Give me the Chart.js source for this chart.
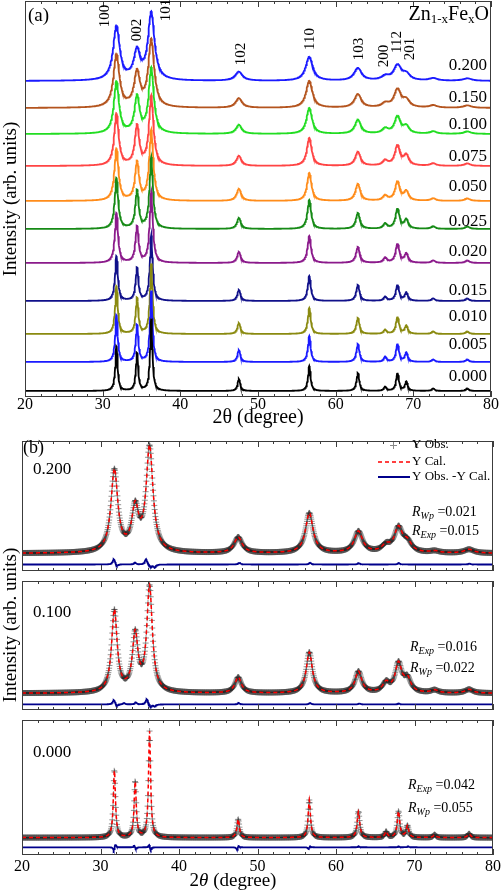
<!DOCTYPE html>
<html>
<head>
<meta charset="utf-8">
<title>Zn1-xFexO XRD</title>
<script src="https://cdn.jsdelivr.net/npm/chart.js"></script>
<style>
  body { margin: 0; background: #fff; }
  #wrap { position: relative; width: 503px; height: 892px; overflow: hidden; }
  canvas { position: absolute; left: 0; }
  #ylabB {
    position: absolute; left: -90px; top: 614px; width: 200px; line-height: 22px;
    text-align: center; transform: rotate(-90deg);
    font: 19px "Liberation Serif", "Times New Roman", serif; color: #000;
  }
</style>
</head>
<body>
<div id="wrap">
  <canvas id="chartA" width="503" height="430" style="top:0"></canvas>
  <canvas id="chartB1" width="503" height="140" style="top:436px"></canvas>
  <canvas id="chartB2" width="503" height="139" style="top:576px"></canvas>
  <canvas id="chartB3" width="503" height="177" style="top:715px"></canvas>
  <div id="ylabB">Intensity (arb. units)</div>
</div>

<script>
// ---- data ----
// reflection positions (2theta, degree) and their labels
const twoTheta = [31.77, 34.42, 36.25, 47.54, 56.60, 62.86, 66.38, 67.96, 69.10, 72.56, 76.95];
const hkl = ['100', '002', '101', '102', '110', '103', '200', '112', '201', '004', '202'];
const widthFactor = [1, 1, 1, 1.15, 1.1, 1.2, 1.2, 1.2, 1.2, 1.3, 1.4];

// panel (a): stacked patterns
const samplesA = ['0.000', '0.005', '0.010', '0.015', '0.020', '0.025', '0.050', '0.075', '0.100', '0.150', '0.200'];
const offsetA = [6, 35, 63, 96, 134, 168, 196, 231, 263, 289, 316];
const fwhmA = [0.35, 0.38, 0.40, 0.42, 0.48, 0.52, 0.62, 0.68, 0.78, 0.90, 1.00];
const peaks000 = [45, 38, 72, 12, 25, 18, 4, 18, 9, 2.5, 2.5];
const peaks005 = [47, 37, 71, 12, 26, 18, 5, 18, 9, 2.5, 2.5];
const peaks010 = [48, 36, 70, 11, 26, 16, 4, 17, 8, 2.5, 2.5];
const peaks015 = [45, 33, 65, 11, 25, 16, 4, 16, 8, 2.5, 2.5];
const peaks020 = [50, 36, 70, 11, 27, 16, 5, 19, 9, 2.5, 2.5];
const peaks025 = [51, 38, 71, 11, 29, 16, 5, 20, 9, 2.5, 2.5];
const peaks050 = [52, 38, 70, 12, 28, 17, 5, 19, 9, 2.5, 2.5];
const peaks075 = [52, 39, 69, 10, 28, 14, 5, 20, 10, 2.5, 2.5];
const peaks100 = [52, 36, 65, 9, 26, 14, 5, 17, 7, 2.5, 2.5];
const peaks150 = [53, 34, 67, 9.5, 27, 13.5, 4, 18, 7, 2.5, 2.5];
const peaks200 = [54, 28, 67, 9, 24, 12.5, 4, 15, 6, 2.5, 2.5];
const peaksA = [peaks000, peaks005, peaks010, peaks015, peaks020, peaks025, peaks050, peaks075, peaks100, peaks150, peaks200];

// panel (b): Rietveld fits
const samplesB = ['0.200', '0.100', '0.000'];
const offsetB = [19, 18, 18];
const diffOffsetB = [7, 6, 8];
const fwhmB = [1.05, 0.85, 0.32];
const calc200 = [88, 45, 112, 17, 43, 23, 7, 26, 10, 2, 4];
const calc100 = [88, 61, 113, 17, 44, 23, 10, 31, 14, 3, 4];
const calc000 = [70, 58, 110, 19, 39, 27, 6, 27, 12, 3, 4];
const diffPos200 = [31.7, 32.1, 34.4, 35.8, 36.4, 36.9, 47.7, 56.7, 62.9, 68.0, 77.0];
const diffAmp200 = [6, -2, 2, 6, -3, -3, 2, 2, 1.5, 1.5, 1];
const diffPos100 = [31.7, 32.1, 33.0, 34.5, 35.9, 36.4, 36.9, 47.6, 56.7, 63.0, 68.0];
const diffAmp100 = [5, -2, 1.5, 2, 6, -3, -2, 1.5, 1.5, 1, 1];
const diffPos000 = [31.7, 31.9, 34.3, 34.5, 36.2, 36.4, 47.4, 47.6, 56.5, 56.7, 62.9, 68.0, 69.2];
const diffAmp000 = [-4, 4, 2, -2, 3, -3, -3, 2, -2, 1.5, 1, 1, 1];
const rwp = ['0.021', '0.022', '0.055'];
const rexp = ['0.015', '0.016', '0.042'];

// ---- styles ----
const SERIF = '"Liberation Serif", "Times New Roman", serif';
Chart.defaults.font.family = SERIF;
Chart.defaults.color = '#000';
const colorsA = ['#000000', '#1a1aff', '#8a8a10', '#10108a', '#8b1a8b', '#168a16', '#ff8c1a', '#ff4444', '#22dd22', '#b4541e', '#1a1aff'];
const labelRaiseA = [14, 17, 17, 10, 11, 7, 14, 9, 9, 10, 15];
const hklDx = [-11, 0, 15, 2, 1, 1, -1, 0, 4];
const hklCy = [16, 30, 10, 54, 39, 49, 56, 42, 49];

const STEP = 0.05;
function peakProfile(amps, fwhm, base) {
  const pts = [];
  for (let i = 0; i <= 1200; i++) {
    const x = 20 + i * STEP;
    let y = base;
    for (let k = 0; k < twoTheta.length; k++) {
      const hw = fwhm * widthFactor[k] / 2;
      const d = (x - twoTheta[k]) / hw;
      y += amps[k] / (1 + d * d);
    }
    pts.push({ x: Math.round(x * 100) / 100, y: y });
  }
  return pts;
}
function diffProfile(pos, amp, base, w) {
  const pts = [];
  for (let i = 0; i <= 1200; i++) {
    const x = 20 + i * STEP;
    let y = base;
    for (let k = 0; k < pos.length; k++) {
      const d = (x - pos[k]) / (w / 2);
      y += amp[k] / (1 + d * d);
    }
    pts.push({ x: Math.round(x * 100) / 100, y: y });
  }
  return pts;
}

function drawRuns(ctx, x, y, runs, align) {
  let total = 0;
  runs.forEach(r => {
    ctx.font = (r.it ? 'italic ' : '') + r.size + 'px ' + SERIF;
    total += ctx.measureText(r.t).width;
  });
  let cx = align === 'right' ? x - total : align === 'center' ? x - total / 2 : x;
  ctx.textAlign = 'left';
  runs.forEach(r => {
    ctx.font = (r.it ? 'italic ' : '') + r.size + 'px ' + SERIF;
    ctx.fillText(r.t, cx, y + (r.dy || 0));
    cx += ctx.measureText(r.t).width;
  });
}

// frame and inward ticks on top and bottom edges
const frameTicks = {
  id: 'frameTicks',
  afterDraw(chart) {
    const { ctx, chartArea: a } = chart;
    const x = chart.scales.x;
    ctx.save();
    ctx.strokeStyle = '#3c3c3c';
    ctx.lineWidth = 1;
    ctx.strokeRect(a.left + 0.5, a.top + 0.5, a.right - a.left - 1, a.bottom - a.top - 1);
    ctx.beginPath();
    for (let v = 20; v <= 80; v += 2) {
      const px = Math.round(x.getPixelForValue(v)) + 0.5;
      const len = v % 10 === 0 ? 6 : 3;
      ctx.moveTo(px, a.bottom); ctx.lineTo(px, a.bottom - len);
      ctx.moveTo(px, a.top); ctx.lineTo(px, a.top + len);
    }
    ctx.stroke();
    ctx.restore();
  }
};

// ---- panel (a) ----
const annA = {
  id: 'annA',
  afterDraw(chart) {
    const { ctx, scales: { x, y } } = chart;
    ctx.save();
    ctx.fillStyle = '#000';
    ctx.textBaseline = 'middle';
    ctx.font = '19px ' + SERIF;
    ctx.textAlign = 'left';
    ctx.fillText('(a)', 28, 16);
    drawRuns(ctx, 489, 15, [
      { t: 'Zn', size: 20 }, { t: '1-x', size: 13, dy: 5 },
      { t: 'Fe', size: 20 }, { t: 'x', size: 13, dy: 5 }, { t: 'O', size: 20 }
    ], 'right');
    ctx.font = '15px ' + SERIF;
    ctx.textAlign = 'center';
    for (let k = 0; k < hklDx.length; k++) {
      ctx.save();
      ctx.translate(x.getPixelForValue(twoTheta[k]) + hklDx[k], hklCy[k]);
      ctx.rotate(-Math.PI / 2);
      ctx.fillText(hkl[k], 0, 0);
      ctx.restore();
    }
    ctx.font = '17px ' + SERIF;
    ctx.textAlign = 'right';
    samplesA.forEach((s, i) => {
      ctx.fillText(s, 487, y.getPixelForValue(offsetA[i]) - labelRaiseA[i]);
    });
    ctx.restore();
  }
};

new Chart(document.getElementById('chartA'), {
  type: 'line',
  data: {
    datasets: samplesA.map((s, i) => ({
      label: s,
      data: peakProfile(peaksA[i], fwhmA[i], offsetA[i]),
      borderColor: colorsA[i],
      borderWidth: 1.8,
      pointRadius: 0,
      fill: false
    }))
  },
  options: {
    responsive: false, animation: false, events: [],
    layout: { padding: { left: 0, right: 12, top: 1, bottom: 0 } },
    plugins: { legend: { display: false }, tooltip: { enabled: false } },
    scales: {
      x: {
        type: 'linear', min: 20, max: 80,
        afterFit(s) { s.height = 33; },
        grid: { display: false, drawTicks: false }, border: { display: false },
        ticks: { stepSize: 2, autoSkip: false, maxRotation: 0, padding: -2, font: { size: 16 },
                 callback: v => (v % 10 === 0 ? String(v) : '') },
        title: { display: true, text: '2θ (degree)', font: { size: 20 }, padding: 0 }
      },
      y: {
        min: 0, max: 396,
        afterFit(s) { s.width = 25; },
        grid: { display: false, drawTicks: false }, border: { display: false },
        ticks: { display: false },
        title: { display: true, text: 'Intensity (arb. units)', font: { size: 19 }, padding: 0 }
      }
    }
  },
  plugins: [frameTicks, annA]
});

// ---- panel (b) ----
const calcB = [calc200, calc100, calc000];
const diffPosB = [diffPos200, diffPos100, diffPos000];
const diffAmpB = [diffAmp200, diffAmp100, diffAmp000];
const diffWidthB = [0.35, 0.35, 0.22];
const canvasTopB = [436, 576, 715];
const labelYB = [470, 613, 753];
const rLeftB = [412, 410, 408];
const rRowsB = [[512, 531], [647, 668], [785, 808]];
const OBS_COLOR = 'rgba(40,40,40,0.5)';

function rText(ctx, x, y, sub, val) {
  drawRuns(ctx, x, y, [
    { t: 'R', size: 14, it: true }, { t: sub, size: 10, it: true, dy: 4 },
    { t: ' =' + val, size: 14 }
  ], 'left');
}

function annB(idx) {
  return {
    id: 'annB' + idx,
    afterDraw(chart) {
      const { ctx } = chart;
      const top = canvasTopB[idx];
      ctx.save();
      ctx.fillStyle = '#000';
      ctx.textBaseline = 'middle';
      ctx.textAlign = 'left';
      ctx.font = '17px ' + SERIF;
      ctx.fillText(samplesB[idx], 33, labelYB[idx] - top);
      const [r1, r2] = rRowsB[idx];
      if (idx === 0) {
        rText(ctx, rLeftB[idx], r1 - top, 'Wp', rwp[idx]);
        rText(ctx, rLeftB[idx], r2 - top, 'Exp', rexp[idx]);
      } else {
        rText(ctx, rLeftB[idx], r1 - top, 'Exp', rexp[idx]);
        rText(ctx, rLeftB[idx], r2 - top, 'Wp', rwp[idx]);
      }
      if (idx === 0) {
        ctx.font = '18px ' + SERIF;
        ctx.fillText('(b)', 23, 12);
        // legend
        ctx.strokeStyle = '#888'; ctx.lineWidth = 1;
        ctx.beginPath();
        ctx.moveTo(390, 9.5); ctx.lineTo(397, 9.5);
        ctx.moveTo(393.5, 6); ctx.lineTo(393.5, 13);
        ctx.stroke();
        ctx.strokeStyle = '#ff0000'; ctx.lineWidth = 1.5; ctx.setLineDash([4, 3]);
        ctx.beginPath(); ctx.moveTo(378, 26); ctx.lineTo(410, 26); ctx.stroke();
        ctx.setLineDash([]);
        ctx.strokeStyle = '#00008b'; ctx.lineWidth = 2;
        ctx.beginPath(); ctx.moveTo(378, 41); ctx.lineTo(410, 41); ctx.stroke();
        ctx.font = '13px ' + SERIF;
        ctx.fillText('Y Obs.', 412, 9);
        ctx.fillText('Y Cal.', 412, 26);
        ctx.fillText('Y Obs. -Y Cal.', 412, 41);
      }
      if (idx === 2) {
        drawRuns(ctx, 233, 166, [
          { t: '2', size: 19 }, { t: 'θ', size: 19, it: true }, { t: ' (degree)', size: 19 }
        ], 'center');
      }
      ctx.restore();
    }
  };
}

['chartB1', 'chartB2', 'chartB3'].forEach((id, idx) => {
  const canvas = document.getElementById(id);
  const calc = peakProfile(calcB[idx], fwhmB[idx], offsetB[idx]);
  const isBottom = idx === 2;
  const axisH = isBottom ? 37 : 0;
  new Chart(canvas, {
    type: 'line',
    data: {
      datasets: [
        { label: 'Y Cal.', data: calc, borderColor: '#ff0000', borderWidth: 1.5, borderDash: [4, 3],
          pointRadius: 0, order: 0 },
        { label: 'Y Obs.', data: calc, showLine: false, pointStyle: 'cross', pointRadius: 3,
          pointBorderColor: OBS_COLOR, pointBorderWidth: 1, borderColor: OBS_COLOR, order: 1 },
        { label: 'Y Obs. -Y Cal.',
          data: diffProfile(diffPosB[idx], diffAmpB[idx], diffOffsetB[idx], diffWidthB[idx]),
          borderColor: '#00008b', borderWidth: 1.8, pointRadius: 0, order: 2 }
      ]
    },
    options: {
      responsive: false, animation: false, events: [],
      layout: { padding: { left: 22, right: 10, top: 0, bottom: 0 } },
      plugins: { legend: { display: false }, tooltip: { enabled: false } },
      scales: {
        x: {
          type: 'linear', min: 20, max: 80, display: isBottom,
          afterFit(s) { if (isBottom) s.height = axisH; },
          grid: { display: false, drawTicks: false }, border: { display: false },
          ticks: { stepSize: 2, autoSkip: false, maxRotation: 0, padding: 2, font: { size: 16 },
                   callback: v => (v % 10 === 0 ? String(v) : '') }
        },
        y: { min: 0, max: canvas.height - axisH, display: false }
      }
    },
    plugins: [frameTicks, annB(idx)]
  });
});
</script>
</body>
</html>
